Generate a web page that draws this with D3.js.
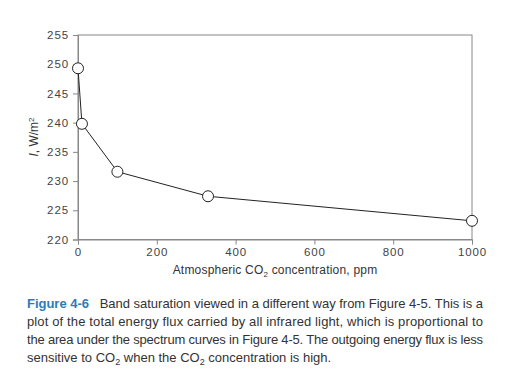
<!DOCTYPE html>
<html>
<head>
<meta charset="utf-8">
<script src="https://cdn.jsdelivr.net/npm/d3@7"></script>
<style>
  body { margin: 0; background: #fff; }
  text { font-family: "Liberation Sans", Arial, sans-serif; }
</style>
</head>
<body>
<script>
const co2 = [0, 10, 100, 330, 1000];
const flux = [249.3, 239.8, 231.6, 227.4, 223.2];
const xTicks = [0, 200, 400, 600, 800, 1000];
const yTicks = [220, 225, 230, 235, 240, 245, 250, 255];

const width = 528, height = 374;
const plotL = 78, plotR = 472, plotT = 35, plotB = 239.5;

const svg = d3.select("body").append("svg")
  .attr("width", width)
  .attr("height", height);

const x = d3.scaleLinear().domain([0, 1000]).range([plotL, plotR]);
const y = d3.scaleLinear().domain([220, 255]).range([plotB, plotT]);

// frame
svg.append("rect")
  .attr("x", plotL).attr("y", plotT)
  .attr("width", plotR - plotL).attr("height", plotB - plotT)
  .attr("fill", "none").attr("stroke", "#888").attr("stroke-width", 1);

const xAxis = svg.append("g")
  .attr("transform", `translate(0,${plotB})`)
  .call(d3.axisBottom(x).tickValues(xTicks).tickFormat(d3.format("d")).tickSize(5).tickPadding(3));
const yAxis = svg.append("g")
  .attr("transform", `translate(${plotL},0)`)
  .call(d3.axisLeft(y).tickValues(yTicks).tickFormat(d3.format("d")).tickSize(5).tickPadding(4));

[xAxis, yAxis].forEach(g => {
  g.attr("font-size", null).attr("font-family", null);
  g.select(".domain").attr("stroke", "#888");
  g.selectAll(".tick line").attr("stroke", "#888");
  g.selectAll(".tick text")
    .attr("fill", "#444")
    .style("font-size", "11.5px")
    .style("letter-spacing", "0.9px");
});

// axis titles
const xt = svg.append("text")
  .attr("x", (plotL + plotR) / 2).attr("y", 274)
  .attr("text-anchor", "middle")
  .attr("fill", "#333").style("font-size", "12px").style("letter-spacing", "0.2px");
xt.append("tspan").text("Atmospheric CO");
xt.append("tspan").attr("dy", 3).style("font-size", "8px").text("2");
xt.append("tspan").attr("dy", -3).text(" concentration, ppm");

const yt = svg.append("text")
  .attr("transform", `translate(38,137) rotate(-90)`)
  .attr("text-anchor", "middle")
  .attr("fill", "#333").style("font-size", "12px");
yt.append("tspan").style("font-style", "italic").text("I");
yt.append("tspan").text(", W/m");
yt.append("tspan").attr("dy", -4).style("font-size", "8px").text("2");

// line + markers
const pts = co2.map((c, i) => [c, flux[i]]);
svg.append("path")
  .datum(pts)
  .attr("fill", "none")
  .attr("stroke", "#222")
  .attr("stroke-width", 1)
  .attr("d", d3.line().x(d => x(d[0])).y(d => y(d[1])));

svg.selectAll("circle.pt")
  .data(pts)
  .join("circle")
  .attr("class", "pt")
  .attr("cx", d => x(d[0]))
  .attr("cy", d => y(d[1]))
  .attr("r", 5.5)
  .attr("fill", "#fff")
  .attr("stroke", "#222")
  .attr("stroke-width", 1);

// caption
const capX = 27, capW = 456, capY = 308, lh = 18;
const cap = svg.append("g").style("font-size", "13px").attr("fill", "#333");

const l1 = cap.append("text").attr("x", capX).attr("y", capY)
  .attr("textLength", capW).attr("lengthAdjust", "spacing");
l1.append("tspan").attr("fill", "#2b7bb9").style("font-weight", "bold").text("Figure 4-6");
l1.append("tspan").text("\u00a0\u00a0\u00a0Band saturation viewed in a different way from Figure 4-5. This is a");

cap.append("text").attr("x", capX).attr("y", capY + lh)
  .attr("textLength", capW).attr("lengthAdjust", "spacing")
  .text("plot of the total energy flux carried by all infrared light, which is proportional to");

cap.append("text").attr("x", capX).attr("y", capY + 2 * lh)
  .attr("textLength", capW).attr("lengthAdjust", "spacing")
  .text("the area under the spectrum curves in Figure 4-5. The outgoing energy flux is less");

const l4 = cap.append("text").attr("x", capX).attr("y", capY + 3 * lh);
l4.append("tspan").text("sensitive to CO");
l4.append("tspan").attr("dy", 3).style("font-size", "9px").text("2");
l4.append("tspan").attr("dy", -3).text(" when the CO");
l4.append("tspan").attr("dy", 3).style("font-size", "9px").text("2");
l4.append("tspan").attr("dy", -3).text(" concentration is high.");
</script>
</body>
</html>
